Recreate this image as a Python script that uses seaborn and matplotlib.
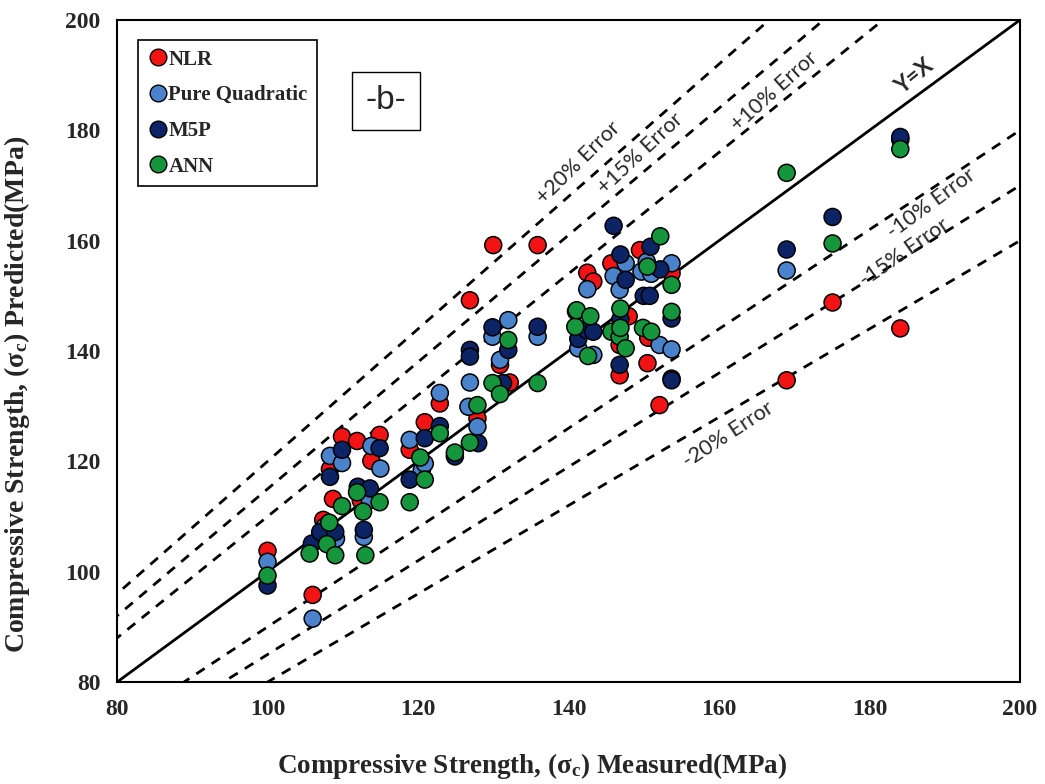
import numpy as np
import pandas as pd
import matplotlib
matplotlib.use("Agg")
import matplotlib.pyplot as plt
import seaborn as sns

# ---- data ----
nlr_x = [100, 106, 107.4, 108.3, 108.7, 109.9, 111.9, 112.4, 113.8, 114.9, 118.9, 120.9, 122.9, 126.9,
         127.9, 130, 130.9, 132.2, 135.9, 141, 142.5, 143.3, 145.7, 146.8, 146.8, 148, 149.5, 150.5,
         150.6, 152.1, 153.7, 153.7, 169, 175.1, 184.1]
nlr_y = [103.8, 95.8, 109.4, 118.6, 113.2, 124.5, 123.7, 112.9, 120.1, 124.8, 122.1, 127.1, 130.5, 149.2,
         127.8, 159.2, 137.5, 134.3, 159.2, 147.2, 154.2, 152.6, 155.9, 141.1, 135.6, 146.3, 158.3, 137.8,
         142.4, 130.2, 154.1, 135.0, 134.7, 148.8, 144.1]

pq_x = [100, 106, 107.6, 108.3, 109.1, 109.9, 112.8, 113.6, 113.8, 115, 118.9, 120.5, 120.9, 122.9,
        126.7, 126.9, 127.9, 129.9, 130.9, 132, 135.9, 141.3, 142.5, 143.3, 146, 146.8, 147.6, 149.7,
        150.4, 151, 152.1, 153.7, 153.7, 169, 184.1]
pq_y = [101.8, 91.5, 108.2, 121, 106, 119.7, 106.3, 113, 122.8, 118.7, 123.9, 118.4, 119.6, 132.4,
        129.9, 134.3, 126.3, 142.6, 138.4, 145.6, 142.6, 140.5, 151.2, 139.3, 153.6, 151.1, 155.9, 154.4,
        156.2, 154, 141.1, 155.9, 140.3, 154.6, 178.3]

m5p_x = [100, 105.9, 107, 108.3, 109, 109.9, 112, 112.8, 113.6, 114.9, 118.9, 120.9, 122.9, 124.9,
         126.9, 126.9, 128, 129.9, 131.3, 132, 135.9, 141.3, 142.4, 143.3, 146.9, 146.9, 146.8, 146.0,
         147.6, 150, 150.8, 150.9, 152.2, 153.7, 153.7, 169, 175.1, 184.1]
m5p_y = [97.5, 105.1, 107.2, 117.2, 107.2, 122.1, 115.4, 107.6, 115.1, 122.4, 116.7, 124.2, 126.4, 120.9,
         140.2, 139, 123.3, 144.3, 134.2, 140.2, 144.4, 142.2, 143.8, 143.5, 157.5, 145.8, 137.5, 162.7,
         152.9, 150, 150, 158.9, 154.8, 145.9, 134.7, 158.4, 164.3, 178.8]

ann_x = [100, 105.6, 107.9, 108.2, 109, 109.9, 111.9, 112.7, 113, 114.9, 118.9, 120.3, 120.9, 122.9,
         124.9, 126.9, 127.9, 129.9, 130.9, 132, 135.9, 140.9, 141.1, 142.6, 142.9, 145.7, 146.8, 146.9,
         146.9, 147.6, 149.9, 150.5, 151, 152.2, 153.7, 153.7, 169, 175.1, 184.1]
ann_y = [99.3, 103.3, 105, 108.9, 103, 111.9, 114.4, 110.9, 103, 112.6, 112.6, 120.7, 116.7, 125.1,
         121.6, 123.4, 130.2, 134.2, 132.2, 142, 134.2, 144.4, 147.4, 139.1, 146.3, 143.5, 142.6, 147.7,
         144.2, 140.5, 144.2, 155.3, 143.5, 160.8, 152, 147.1, 172.3, 159.5, 176.6]

models = ["NLR", "Pure Quadratic", "M5P", "ANN"]
colors = ["#f21414", "#4a82cc", "#0c2466", "#16963c"]
error_levels = [0.20, 0.15, 0.10, -0.10, -0.15, -0.20]
error_labels = ["+20% Error", "+15% Error", "+10% Error", "-10% Error", "-15% Error", "-20% Error"]
label_pos = [(141.3, 174.2), (149.6, 175.8), (167.3, 187.0), (188.2, 166.8), (184.6, 157.9), (161.2, 124.9)]

df = pd.concat([
    pd.DataFrame({"Measured": nlr_x, "Predicted": nlr_y, "Model": "NLR"}),
    pd.DataFrame({"Measured": pq_x, "Predicted": pq_y, "Model": "Pure Quadratic"}),
    pd.DataFrame({"Measured": m5p_x, "Predicted": m5p_y, "Model": "M5P"}),
    pd.DataFrame({"Measured": ann_x, "Predicted": ann_y, "Model": "ANN"}),
], ignore_index=True)

sns.set_style("white")
plt.rcParams["font.family"] = ["Liberation Serif", "DejaVu Serif"]
plt.rcParams["mathtext.fontset"] = "custom"
plt.rcParams["mathtext.rm"] = "Liberation Serif:bold"
plt.rcParams["mathtext.it"] = "Liberation Serif:bold"
plt.rcParams["mathtext.bf"] = "Liberation Serif:bold"

fig = plt.figure(figsize=(10.45, 7.84), dpi=100)
ax = fig.add_axes([0.112, 0.130, 0.864, 0.8445])

# reference lines
xs = np.array([60.0, 220.0])
ax.plot(xs, xs, color="black", lw=2.0, zorder=1)
for e in error_levels:
    ax.plot(xs, xs * (1 + e), color="black", lw=2.0, ls=(0, (3.6, 3.0)), zorder=1)

sns.scatterplot(data=df, x="Measured", y="Predicted", hue="Model", hue_order=models,
                palette=dict(zip(models, colors)), s=150, edgecolor="black", linewidth=1.1,
                ax=ax, zorder=3, legend=False)

ax.set_xlim(80, 200)
ax.set_ylim(80, 200)
ax.set_xticks(np.arange(80, 201, 20))
ax.set_yticks(np.arange(80, 201, 20))
for s in ax.spines.values():
    s.set_color("black")
    s.set_linewidth(1.5)
ax.tick_params(direction="in", length=6, width=1.2, color="black", labelsize=17, pad=12)
for lbl in ax.get_xticklabels() + ax.get_yticklabels():
    lbl.set_fontweight("bold")

ax.set_xlabel("Compressive Strength, (σ$_c$) Measured(MPa)", fontsize=19.5, fontweight="bold")
ax.set_ylabel("Compressive Strength, (σ$_c$) Predicted(MPa)", fontsize=20, fontweight="bold")
ax.xaxis.set_label_coords(0.46, -0.104)
ax.yaxis.set_label_coords(-0.094, 0.434)

# error labels
for (lx, ly), e, txt in zip(label_pos, error_levels, error_labels):
    ang = np.degrees(np.arctan(1 + e)) + 3
    ax.text(lx, ly, txt, rotation=ang, transform_rotates_text=True, rotation_mode="anchor",
            ha="center", va="center", fontsize=15.5, family=["Lato", "DejaVu Sans"], zorder=4)
ax.text(186.0, 189.8, "Y=X", rotation=48, transform_rotates_text=True, rotation_mode="anchor",
        ha="center", va="center", fontsize=16, fontweight="bold", family=["Lato", "DejaVu Sans"])

# legend
handles = [plt.Line2D([], [], marker="o", ls="", markersize=12, markerfacecolor=c,
                      markeredgecolor="black", markeredgewidth=1.0) for c in colors]
leg = ax.legend(handles, models, loc="upper left", bbox_to_anchor=(0.012, 0.985), frameon=True,
                fancybox=False, edgecolor="black", framealpha=1, handletextpad=0.0,
                handlelength=1.0, labelspacing=0.75, borderpad=0.45,
                prop={"family": "Liberation Serif", "weight": "bold", "size": 15})
leg.get_frame().set_linewidth(1.2)

# panel tag
ax.text(0.298, 0.878, "-b-", transform=ax.transAxes, ha="center", va="center", fontsize=24,
        family=["Liberation Sans", "DejaVu Sans"],
        bbox=dict(boxstyle="square,pad=0.4", facecolor="white", edgecolor="black", lw=1.0))

fig.savefig("out.png", dpi=100)
